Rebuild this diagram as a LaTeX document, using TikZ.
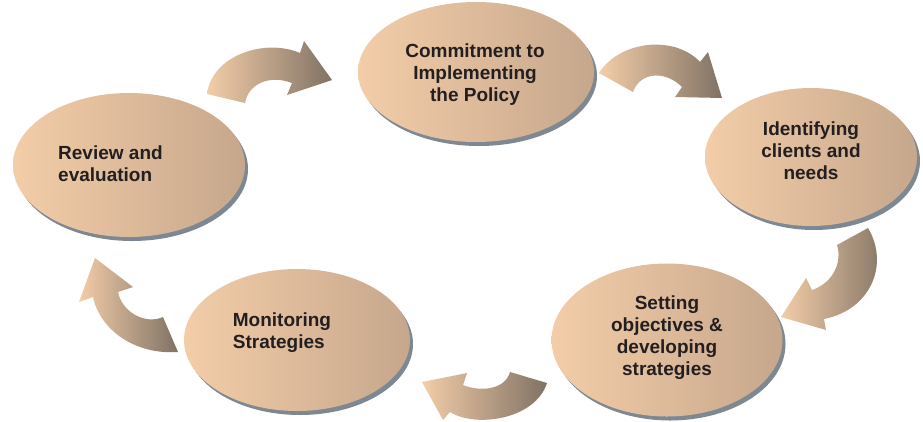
\documentclass[tikz,border=0pt]{standalone}
\usepackage{fontspec}
\setmainfont{Liberation Sans}
\usetikzlibrary{shapes.geometric}
\definecolor{lite}{RGB}{243,205,168}
\definecolor{ellR}{RGB}{198,167,140}
\definecolor{arrR}{RGB}{128,114,100}
\definecolor{shad}{RGB}{125,136,146}
\definecolor{txt}{RGB}{35,31,32}
\begin{document}
\begin{tikzpicture}[x=1pt,y=-1pt,
  bubble/.style={ellipse, inner sep=0pt, draw=none, left color=lite, right color=ellR,
     preaction={fill=shad, transform canvas={xshift=3pt,yshift=-4pt}}},
  lbl/.style={font=\fontsize{19}{22}\selectfont\bfseries, text=txt, inner sep=0pt},
  cyc/.style={draw=none, left color=lite, right color=arrR}]
\useasboundingbox (0,0) rectangle (923,421);
% stages
\node[bubble, minimum width=232pt, minimum height=144pt] (e1) at (129,165) {};
\node[bubble, minimum width=236pt, minimum height=140pt] (e2) at (476,72) {};
\node[bubble, minimum width=212pt, minimum height=138pt] (e3) at (811,157) {};
\node[bubble, minimum width=231pt, minimum height=153pt] (e4) at (667,340) {};
\node[bubble, minimum width=226pt, minimum height=142pt] (e5) at (297,340) {};
% labels
\node[lbl, anchor=west, align=left] (t1) at (58,163.5) {Review and\\evaluation};
\node[lbl, align=center] (t2) at (475,75) {Commitment to\\Implementing\\the Policy};
\node[lbl, align=center] (t3) at (811,151) {Identifying\\clients and\\needs};
\node[lbl, align=center] (t4) at (667,338) {Setting\\objectives \&\\developing\\strategies};
\node[lbl, anchor=west, align=left] (t5) at (232.7,332.2) {Monitoring\\Strategies};
% curved arrows
\path[cyc] (245,103) -- (207,94) .. controls (212,55) and (265,38) .. (300,53)
  -- (304,41) -- (332,80) -- (287,95) -- (292,83)
  .. controls (268,74) and (248,85) .. (245,103) -- cycle;
\path[cyc] (633,92) -- (599,73) .. controls (620,40) and (675,35) .. (700,62)
  -- (708,52) -- (722,98) -- (675,97) -- (682,87)
  .. controls (665,70) and (640,72) .. (633,92) -- cycle;
\path[cyc] (837,245) -- (868,228) .. controls (890,265) and (870,310) .. (824,319)
  -- (826,330) -- (781,317) -- (806,278) -- (812,290)
  .. controls (835,282) and (842,260) .. (837,245) -- cycle;
\path[cyc] (510,372) -- (547,383) .. controls (535,420) and (475,428) .. (450,412)
  -- (443,420) -- (422,382) -- (467,373) -- (463,385)
  .. controls (480,392) and (505,390) .. (510,372) -- cycle;
\path[cyc] (163,317) -- (178,352) .. controls (135,355) and (100,330) .. (93,297)
  -- (79,302) -- (95,258) -- (133,287) -- (118,292)
  .. controls (122,312) and (145,325) .. (163,317) -- cycle;
\end{tikzpicture}
\end{document}
